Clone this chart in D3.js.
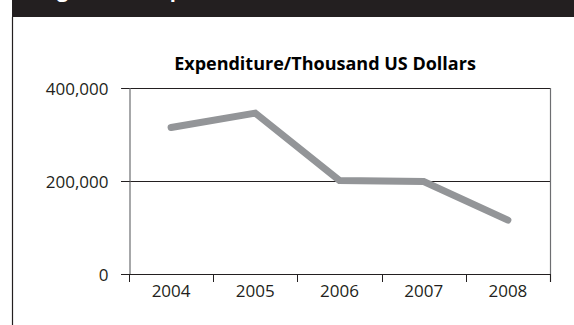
<!DOCTYPE html>
<html>
<head>
<meta charset="utf-8">
<script src="https://cdn.jsdelivr.net/npm/d3@7"></script>
<style>
  html, body { margin: 0; padding: 0; background: #fff; }
  svg { display: block; font-family: "Open Sans", sans-serif; }
</style>
</head>
<body>
<svg id="chart" width="574" height="325"></svg>
<script>
// Annual expenditure, thousand US dollars
const years = ["2004", "2005", "2006", "2007", "2008"];
const expenditure = [315000, 346000, 201000, 199000, 116000];
const yTicks = [0, 200000, 400000];
const chartTitle = "Expenditure/Thousand US Dollars";
const headerText = "Figure 3.4: Expenditure";

const svg = d3.select("#chart");
const W = 574, H = 325;
const plot = { left: 129, right: 550, top: 88, bottom: 274 };

// Dark header band and left frame rule
svg.append("rect").attr("x", 12).attr("y", 0).attr("width", W - 12).attr("height", 17)
  .attr("fill", "#231f20");
svg.append("text").attr("x", 40).attr("y", -3)
  .attr("fill", "#fff").attr("font-weight", 700).attr("font-size", 20)
  .text(headerText);
svg.append("line").attr("x1", 12.5).attr("x2", 12.5).attr("y1", 17).attr("y2", H)
  .attr("stroke", "#231f20").attr("stroke-width", 1.2);

const x = d3.scaleBand().domain(years).range([plot.left, plot.right]).padding(0);
const y = d3.scaleLinear().domain([0, 400000]).range([plot.bottom, plot.top]);

// Horizontal gridlines
svg.append("g").selectAll("line").data(yTicks.filter(d => d > 0)).join("line")
  .attr("x1", plot.left - 8).attr("x2", plot.right)
  .attr("y1", d => Math.round(y(d)) + 0.5).attr("y2", d => Math.round(y(d)) + 0.5)
  .attr("stroke", "#231f20").attr("stroke-width", 1);

// Right frame edge
svg.append("line").attr("x1", plot.right + 0.5).attr("x2", plot.right + 0.5)
  .attr("y1", plot.top).attr("y2", plot.bottom + 8)
  .attr("stroke", "#6d6e71").attr("stroke-width", 1.2);

// Y axis
const yAxis = svg.append("g").attr("transform", `translate(${plot.left + 0.5},0)`)
  .call(d3.axisLeft(y).tickValues(yTicks).tickSize(8).tickPadding(13)
    .tickFormat(d3.format(",")));
yAxis.select(".domain").attr("stroke", "#6d6e71").attr("stroke-width", 1.2);
yAxis.selectAll(".tick line").attr("stroke", "#231f20");
yAxis.selectAll(".tick text").attr("font-size", 17).attr("fill", "#231f20")
  .attr("font-family", "'Open Sans', sans-serif").attr("dy", "0.4em");

// X axis: baseline, ticks at category boundaries, centred labels
const xg = svg.append("g");
xg.append("line").attr("x1", plot.left - 8).attr("x2", plot.right)
  .attr("y1", plot.bottom + 0.5).attr("y2", plot.bottom + 0.5)
  .attr("stroke", "#231f20").attr("stroke-width", 1);
const bounds = years.map(d => x(d)).concat([x(years[years.length - 1]) + x.bandwidth()]);
xg.selectAll(".xt").data(bounds).join("line").attr("class", "xt")
  .attr("x1", d => Math.round(d) + 0.5).attr("x2", d => Math.round(d) + 0.5)
  .attr("y1", plot.bottom).attr("y2", plot.bottom + 8)
  .attr("stroke", "#231f20").attr("stroke-width", 1);
xg.selectAll(".xl").data(years).join("text").attr("class", "xl")
  .attr("x", d => x(d) + x.bandwidth() / 2).attr("y", 297)
  .attr("text-anchor", "middle").attr("font-size", 17).attr("fill", "#231f20")
  .text(d => d);

// Expenditure line
const line = d3.line()
  .x((d, i) => x(years[i]) + x.bandwidth() / 2)
  .y(d => y(d));
svg.append("path").datum(expenditure).attr("d", line)
  .attr("fill", "none").attr("stroke", "#939598").attr("stroke-width", 7)
  .attr("stroke-linecap", "round").attr("stroke-linejoin", "miter");

// Title
svg.append("text").attr("x", 325).attr("y", 70).attr("text-anchor", "middle")
  .attr("font-size", 18).attr("font-weight", 700).attr("fill", "#000")
  .text(chartTitle);
</script>
</body>
</html>
